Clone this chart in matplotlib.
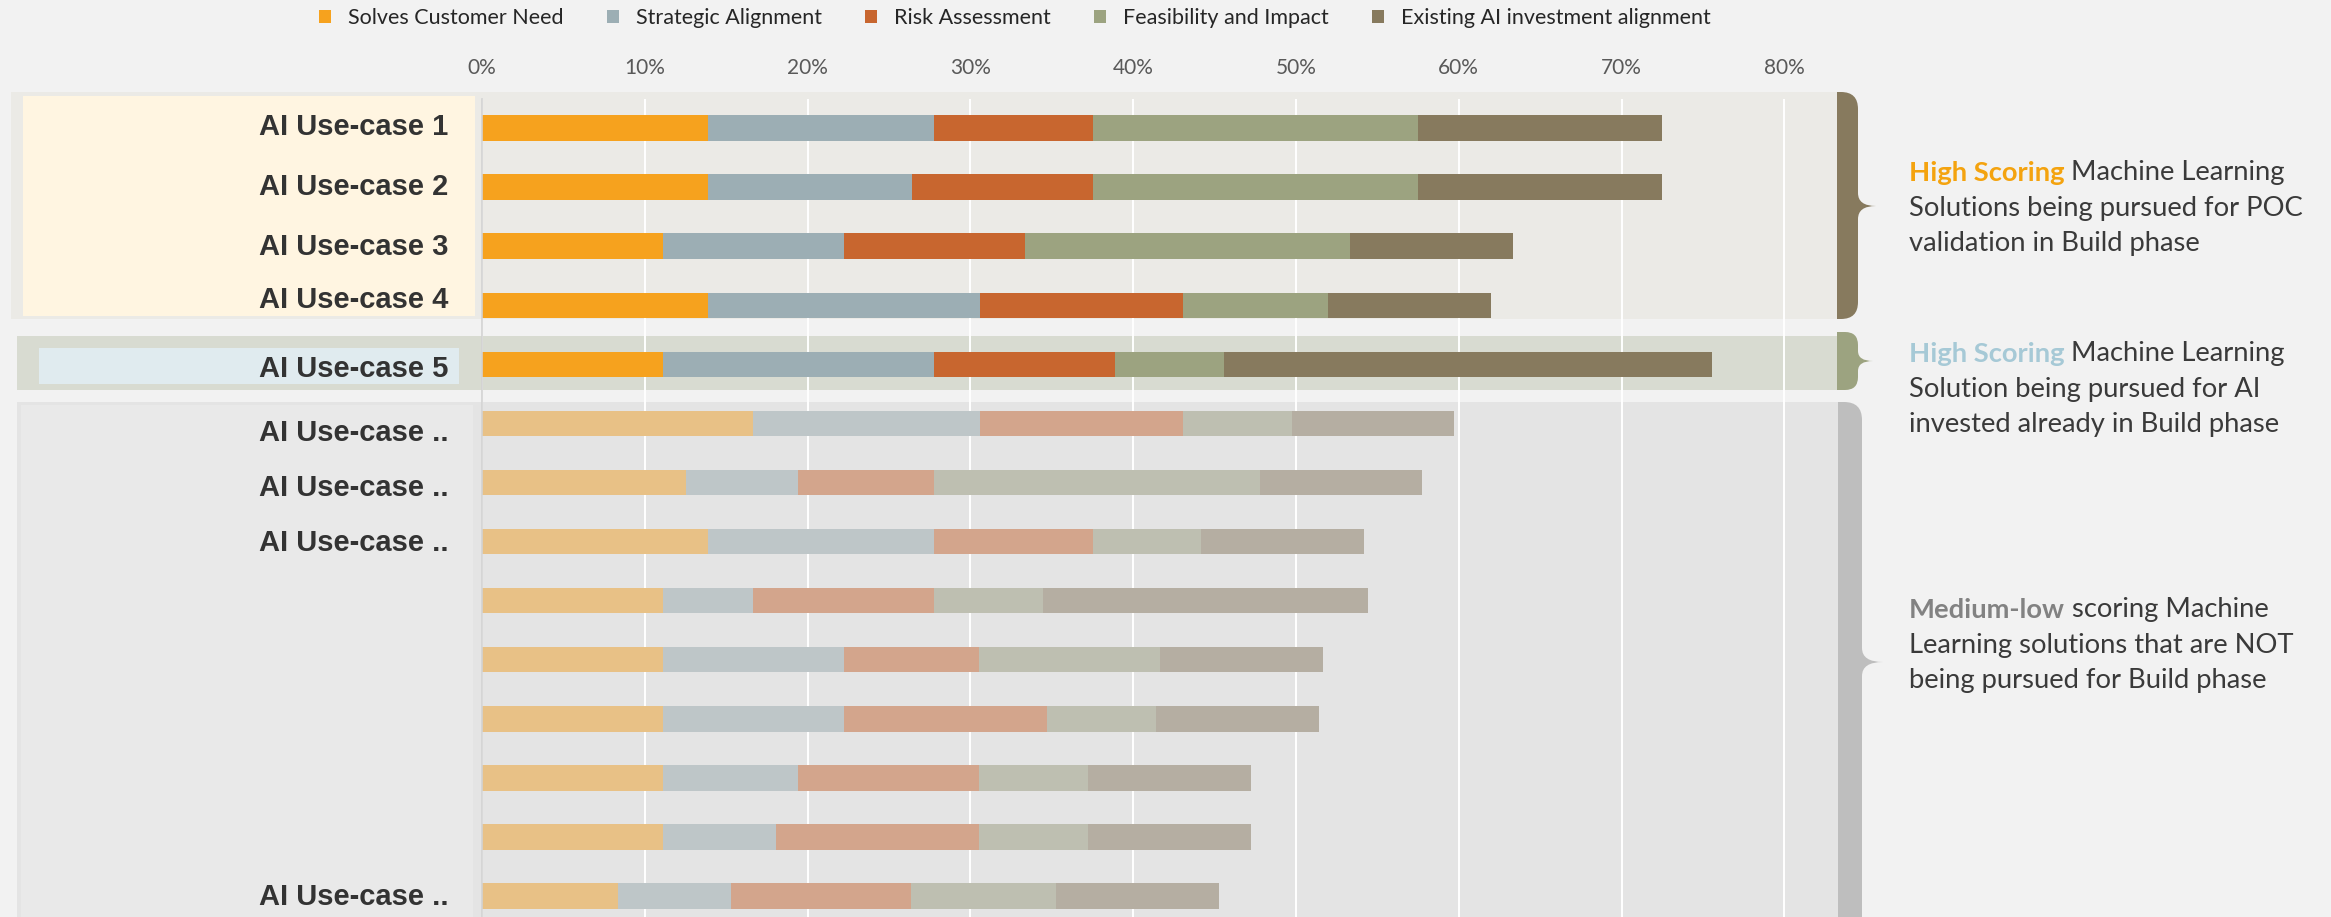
import matplotlib
matplotlib.use("Agg")
import numpy as np
import matplotlib.pyplot as plt
from matplotlib.patches import Rectangle, PathPatch
from matplotlib.path import Path
from matplotlib.transforms import ScaledTranslation

# data
use_cases = ["AI Use-case 1", "AI Use-case 2", "AI Use-case 3", "AI Use-case 4", "AI Use-case 5",
             "AI Use-case ..", "AI Use-case ..", "AI Use-case ..", "", "", "", "", "", "AI Use-case .."]
solves_customer_need = [13.89, 13.89, 11.11, 13.89, 11.11, 16.67, 12.5, 13.89, 11.11, 11.11, 11.11, 11.11, 11.11, 8.33]
strategic_alignment = [13.89, 12.5, 11.11, 16.67, 16.67, 13.89, 6.94, 13.89, 5.56, 11.11, 11.11, 8.33, 6.94, 6.94]
risk_assessment = [9.72, 11.11, 11.11, 12.5, 11.11, 12.5, 8.33, 9.72, 11.11, 8.33, 12.5, 11.11, 12.5, 11.11]
feasibility_impact = [20, 20, 20, 8.89, 6.67, 6.67, 20, 6.67, 6.67, 11.11, 6.67, 6.67, 6.67, 8.89]
existing_ai_alignment = [15, 15, 10, 10, 30, 10, 10, 10, 20, 10, 10, 10, 10, 10]
series_names = ["Solves Customer Need", "Strategic Alignment", "Risk Assessment",
                "Feasibility and Impact", "Existing AI investment alignment"]
x_ticks = [0, 10, 20, 30, 40, 50, 60, 70, 80]
x_tick_labels = ["0%", "10%", "20%", "30%", "40%", "50%", "60%", "70%", "80%"]
n_pursued = 5  # first rows drawn in full colour

# right hand notes: (bold head, head colour, rest of line 1, line 2, line 3)
notes = [
    ("High Scoring", "#F4A30F", " Machine Learning", "Solutions being pursued for POC", "validation in Build phase"),
    ("High Scoring", "#A6C9D6", " Machine Learning", "Solution being pursued for AI", "invested already in Build phase"),
    ("Medium-low", "#828282", " scoring Machine", "Learning solutions that are NOT", "being pursued for Build phase"),
]

full_colors = ["#F6A21E", "#9CAEB4", "#C8662F", "#9CA380", "#877A5E"]
faded_colors = ["#E8C186", "#BEC6C8", "#D3A58C", "#BEBFB1", "#B5AEA2"]

W, H = 2331, 917
plt.rcParams['font.family'] = ['Lato', 'DejaVu Sans']
fig = plt.figure(figsize=(W / 100, H / 100), dpi=100, facecolor="#F2F2F2")

# axes placed in pixel terms: 0% at x=482, top of plot at y=99
ax_l, ax_r, ax_t, ax_b = 482, 1837, 99, 917
ax = fig.add_axes([ax_l / W, 1 - ax_b / H, (ax_r - ax_l) / W, (ax_b - ax_t) / H])
ax.set_facecolor("none")


def fig_rect(x0, y0, x1, y1, color):
    r = Rectangle((x0 / W, 1 - y1 / H), (x1 - x0) / W, (y1 - y0) / H, transform=fig.transFigure,
                  facecolor=color, edgecolor="none", zorder=-5)
    fig.add_artist(r)


def fig_bracket(x0, x1, ytop, ybot, ymid, xtip, r, n, color):
    pts = [(x0, ytop), (x1 - r, ytop), (x1, ytop), (x1, ytop + r),
           (x1, ymid - n), (x1, ymid), (xtip, ymid),
           (x1, ymid), (x1, ymid + n),
           (x1, ybot - r), (x1, ybot), (x1 - r, ybot), (x0, ybot), (x0, ytop)]
    codes = [Path.MOVETO, Path.LINETO, Path.CURVE3, Path.CURVE3,
             Path.LINETO, Path.CURVE3, Path.CURVE3,
             Path.CURVE3, Path.CURVE3,
             Path.LINETO, Path.CURVE3, Path.CURVE3, Path.LINETO, Path.CLOSEPOLY]
    verts = [(x / W, 1 - y / H) for x, y in pts]
    fig.add_artist(PathPatch(Path(verts, codes), transform=fig.transFigure,
                             facecolor=color, edgecolor="none", zorder=-4))


# group panels
fig_rect(11, 92, 1837, 319, "#EBEAE6")
fig_rect(23, 96, 475, 316, "#FFF5E1")
fig_rect(17, 336, 1837, 390, "#D8DBD1")
fig_rect(39, 348, 459, 384, "#E0EBEF")
fig_rect(17, 402, 1838, 930, "#E4E4E4")
fig_rect(21, 405, 473, 930, "#E9E9E9")

fig_bracket(1837, 1858, 92, 319, 206, 1876, 17, 13, "#877A5E")
fig_bracket(1837, 1858, 332, 390, 361, 1873, 13, 10, "#9CA380")
fig_bracket(1838, 1862, 402, 935, 662, 1883, 18, 14, "#BEBEBE")

# stacked bars
y = np.arange(len(use_cases))
series = [solves_customer_need, strategic_alignment, risk_assessment, feasibility_impact, existing_ai_alignment]
left = np.zeros(len(use_cases))
for i, (vals, name) in enumerate(zip(series, series_names)):
    cols = [full_colors[i] if k < n_pursued else faded_colors[i] for k in range(len(use_cases))]
    ax.barh(y, vals, left=left, height=0.43, color=cols, label=name, zorder=2)
    left += np.array(vals)

ax.set_xlim(0, (ax_r - ax_l) / 162.8 * 10)
ax.set_ylim((ax_b - 128) / 59.08, (ax_t - 128) / 59.08)

ax.xaxis.tick_top()
ax.set_xticks(x_ticks)
ax.set_xticklabels(x_tick_labels)
ax.tick_params(axis="x", length=0, pad=15, labelsize=15, labelcolor="#595959")
ax.set_yticks(y)
ax.set_yticklabels(use_cases, fontfamily="Liberation Sans", fontweight="bold", fontsize=21, color="#333333")
ax.tick_params(axis="y", length=0, pad=24)
label_shift = [4, 3, 2, 8, -2, -7, -3, 2, 0, 0, 0, 0, 0, 2]
for lab, dy in zip(ax.get_yticklabels(), label_shift):
    lab.set_transform(lab.get_transform() + ScaledTranslation(0, dy / 100, fig.dpi_scale_trans))

ax.set_axisbelow(True)
ax.xaxis.grid(True, color="white", linewidth=1.4)
for s in ["top", "right", "bottom"]:
    ax.spines[s].set_visible(False)
ax.spines["left"].set_color("#D2D2D2")
ax.spines["left"].set_linewidth(1.2)

# legend on top
handles, labels = ax.get_legend_handles_labels()
fig.legend(handles, labels, ncol=5, loc="center", bbox_to_anchor=(1015 / W, 1 - 18 / H), frameon=False,
           fontsize=15.5, handlelength=0.55, handleheight=0.55, handletextpad=0.8, columnspacing=2.0,
           labelcolor="#262626")

# notes on the right
baselines = [(181, 216, 251), (362, 397, 432), (618, 653, 688)]
for (head, hcol, rest, l2, l3), (b1, b2, b3) in zip(notes, baselines):
    t = fig.text(1909 / W, 1 - b1 / H, head, color=hcol, fontweight="bold", fontsize=19.7, va="baseline")
    ax.annotate(rest, xy=(1, 0), xycoords=t, va="bottom", ha="left", fontsize=19.7, color="#3A3A3A")
    fig.text(1909 / W, 1 - b2 / H, l2, fontsize=19.7, va="baseline", color="#3A3A3A")
    fig.text(1909 / W, 1 - b3 / H, l3, fontsize=19.7, va="baseline", color="#3A3A3A")

fig.savefig("out.png", dpi=100, facecolor=fig.get_facecolor())
